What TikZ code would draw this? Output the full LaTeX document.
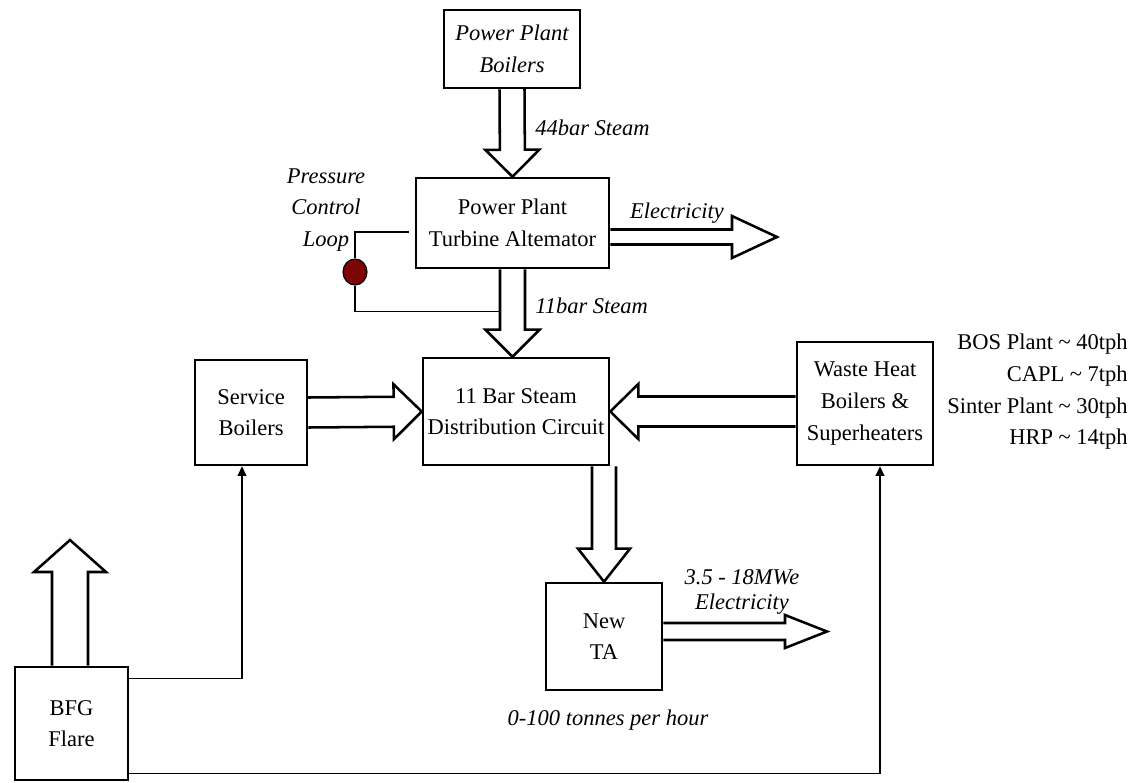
\documentclass[tikz,border=0pt]{standalone}
\usepackage{fontspec}
\setmainfont{Liberation Serif}
\usetikzlibrary{arrows.meta,calc,shapes.geometric}
\definecolor{valvered}{RGB}{125,5,5}
\newcommand{\pxu}{0.025cm}
\tikzset{
    unitbox/.style={draw, line width=1.8pt, align=center, inner sep=2pt,
        font=\fontsize{16}{22.5}\selectfont},
    flowlabel/.style={align=center, inner sep=0pt,
        font=\fontsize{16}{22.5}\selectfont\itshape},
    flowarrow/.style={line width=1.8pt, line join=miter},
    ctrlline/.style={line width=1pt},
    feedarrow/.style={line width=1pt, -{Triangle[length=2.4mm,width=2.2mm]}}
}
% hollow block arrow: from, to, shaft half width, head half width, head length (px)
\newcommand{\fatarrow}[5]{%
  \path let \p1=(#1), \p2=(#2) in \pgfextra{%
    \pgfmathsetmacro\arrang{atan2(\y2-\y1,\x2-\x1)}\xdef\arrang{\arrang}%
    \pgfmathsetmacro\arrlen{veclen(\x2-\x1,\y2-\y1)}\xdef\arrlen{\arrlen}};
  \draw[flowarrow, shift={(#1)}, rotate=\arrang]
    (0pt,#3*\pxu) -- ({\arrlen pt-#5*\pxu},#3*\pxu) -- ({\arrlen pt-#5*\pxu},#4*\pxu)
    -- (\arrlen pt,0pt) -- ({\arrlen pt-#5*\pxu},-#4*\pxu)
    -- ({\arrlen pt-#5*\pxu},-#3*\pxu) -- (0pt,-#3*\pxu);
}
\begin{document}
\begin{tikzpicture}[x=0.025cm, y=-0.025cm]
\useasboundingbox (0,0) rectangle (1141,782);
% units
\node[unitbox, minimum width=3.4cm, minimum height=1.95cm, font=\fontsize{16}{22.5}\selectfont\itshape] (ppb) at (512,49) {Power Plant\\Boilers};
\node[unitbox, minimum width=4.825cm, minimum height=2.25cm] (ppta) at (512.5,223) {Power Plant\\Turbine Altemator};
\node[unitbox, minimum width=4.65cm, minimum height=2.675cm] (dist) at (516,411.5) {11 Bar Steam\\Distribution Circuit};
\node[unitbox, minimum width=2.8cm, minimum height=2.625cm] (serv) at (251,412.5) {Service\\Boilers};
\node[unitbox, minimum width=3.4cm, minimum height=3.075cm] (whb) at (865,403.5) {Waste Heat\\Boilers \&\\Superheaters};
\node[unitbox, minimum width=2.9cm, minimum height=2.675cm] (newta) at (604,636.5) {New\\TA};
\node[unitbox, minimum width=2.825cm, minimum height=2.825cm] (bfg) at (71.5,723.5) {BFG\\Flare};
\node[ellipse, draw, line width=0.8pt, fill=valvered, minimum width=0.6cm, minimum height=0.65cm, inner sep=0pt] (valve) at (355,272) {};
% free ends
\coordinate (elec1) at (777,237);
\coordinate (elec2) at (827,631.5);
\coordinate (flaretop) at (70,540);
% labels
\node[flowlabel, anchor=west] (lbl44) at (535,128) {44bar Steam};
\node[flowlabel, anchor=west] (lbl11) at (535,306) {11bar Steam};
\node[flowlabel] (lblelec1) at (677,213) {Electricity};
\node[flowlabel] (lblloop) at (326,210) {Pressure\\Control\\Loop};
\node[flowlabel, font=\fontsize{16}{18}\selectfont\itshape] (lblelec2) at (742,592) {3.5 - 18MWe\\Electricity};
\node[flowlabel] (lbltph) at (608,720) {0-100 tonnes per hour};
\node[align=right, anchor=east, inner sep=0pt, font=\fontsize{16}{22.5}\selectfont] (lblsrc) at (1128,392)
    {BOS Plant \char`~\ 40tph\\CAPL \char`~\ 7tph\\Sinter Plant \char`~\ 30tph\\HRP \char`~\ 14tph};
% steam and power flows
\fatarrow{ppb.south}{ppta.north}{12.5}{27}{27}
\fatarrow{ppta.south}{ppta.south |- dist.north}{12.5}{27}{27}
\fatarrow{serv.east}{dist.west}{15}{27.5}{28}
\fatarrow{whb.west |- dist.east}{dist.east}{15}{27.5}{28}
\fatarrow{newta.north |- dist.south}{newta.north}{12}{26}{33}
\fatarrow{ppta.east |- elec1}{elec1}{7.5}{21}{45}
\fatarrow{newta.east |- elec2}{elec2}{8.5}{16.5}{42}
\fatarrow{bfg.north -| flaretop}{flaretop}{18}{36}{32}
% pressure control loop
\coordinate (loopin) at ($(ppta.west)+(-6,9)$);
\coordinate (loopout) at ($(ppta.south)+(-12.5,42)$);
\draw[ctrlline] (loopin) -| (valve.north);
\draw[ctrlline] (valve.south) |- (loopout);
% BFG feed
\draw[feedarrow] ($(bfg.north east)+(0,13)$) -| ($(serv.south)+(-9,0)$);
\draw[feedarrow] ($(bfg.south east)+(0,-8)$) -| ($(whb.south)+(15,0)$);
\end{tikzpicture}
\end{document}
